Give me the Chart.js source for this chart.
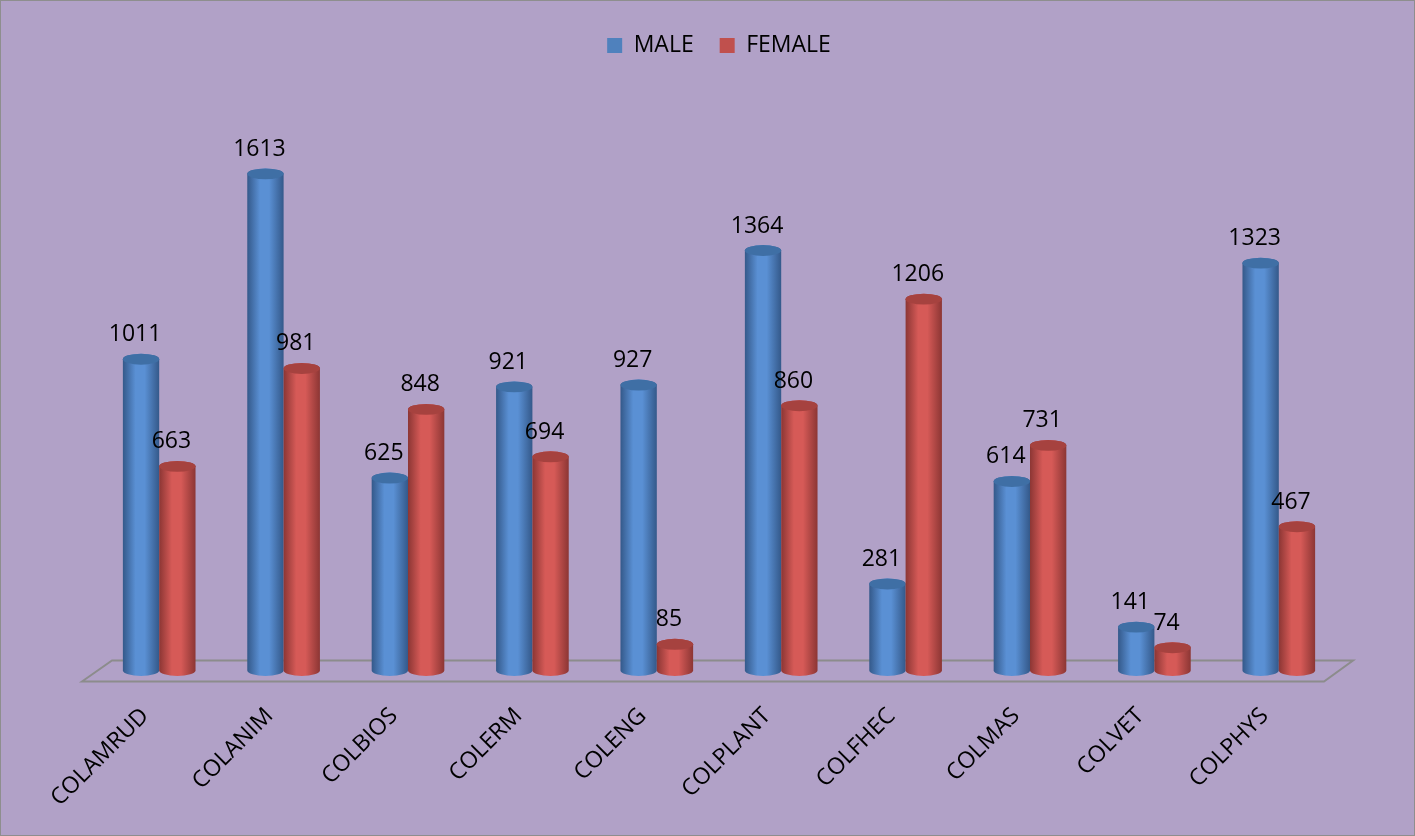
<!DOCTYPE html>
<html>
<head>
<meta charset="utf-8">
<script src="https://cdn.jsdelivr.net/npm/chart.js@4.4.1/dist/chart.umd.min.js"></script>
<style>
  html, body { margin: 0; padding: 0; background: #B1A1C7; }
  #wrap { width: 1415px; height: 836px; }
</style>
</head>
<body>
<div id="wrap"><canvas id="chart" width="1415" height="836"></canvas></div>
<script>
// Data
const colleges = ["COLAMRUD", "COLANIM", "COLBIOS", "COLERM", "COLENG", "COLPLANT", "COLFHEC", "COLMAS", "COLVET", "COLPHYS"];
const maleValues = [1011, 1613, 625, 921, 927, 1364, 281, 614, 141, 1323];
const femaleValues = [663, 981, 848, 694, 85, 860, 1206, 731, 74, 467];

const FONT = "'Open Sans', 'Liberation Sans', sans-serif";

// Cylinder shading per series
const shades = [
  { edge: "#34598A", mid: "#5A90D4", top: "#3F6FA5" },
  { edge: "#8C3634", mid: "#D65A57", top: "#A6423F" },
];

// background + border
const backgroundPlugin = {
  id: "bg",
  beforeDraw(chart) {
    const ctx = chart.ctx;
    ctx.save();
    ctx.fillStyle = "#B1A1C7";
    ctx.fillRect(0, 0, chart.width, chart.height);
    ctx.strokeStyle = "#8E8E8E";
    ctx.lineWidth = 1;
    ctx.strokeRect(0.5, 0.5, chart.width - 1, chart.height - 1);
    ctx.restore();
  },
};

// 3D floor under the bars
const floorPlugin = {
  id: "floor",
  beforeDatasetsDraw(chart) {
    const ctx = chart.ctx;
    const area = chart.chartArea;
    const y0 = chart.scales.y.getPixelForValue(0);
    ctx.save();
    ctx.strokeStyle = "#8C8C8C";
    ctx.lineWidth = 2;
    ctx.beginPath();
    ctx.moveTo(area.left - 15, y0 + 11);
    ctx.lineTo(area.left + 15, y0 - 10);
    ctx.lineTo(area.right + 12, y0 - 10);
    ctx.lineTo(area.right - 17, y0 + 11);
    ctx.closePath();
    ctx.stroke();
    ctx.restore();
  },
};

// Draw bars as cylinders instead of flat rects
const cylinderPlugin = {
  id: "cylinder",
  beforeDatasetDraw() {
    return false;
  },
  afterDatasetsDraw(chart) {
    const ctx = chart.ctx;
    chart.data.datasets.forEach((ds, di) => {
      const meta = chart.getDatasetMeta(di);
      const s = shades[di];
      meta.data.forEach((el) => {
        const { x, y, base, width } = el.getProps(["x", "y", "base", "width"], true);
        const rx = width / 2;
        const ry = width * 0.15;
        ctx.save();
        const g = ctx.createLinearGradient(x - rx, 0, x + rx, 0);
        g.addColorStop(0, s.edge);
        g.addColorStop(0.35, s.mid);
        g.addColorStop(0.6, s.mid);
        g.addColorStop(1, s.edge);
        ctx.fillStyle = g;
        ctx.beginPath();
        ctx.moveTo(x - rx, y);
        ctx.lineTo(x - rx, base);
        ctx.ellipse(x, base, rx, ry, 0, Math.PI, 0, true);
        ctx.lineTo(x + rx, y);
        ctx.ellipse(x, y, rx, ry, 0, 0, Math.PI, true);
        ctx.closePath();
        ctx.fill();
        // top cap
        ctx.fillStyle = s.top;
        ctx.beginPath();
        ctx.ellipse(x, y, rx, ry, 0, 0, Math.PI * 2);
        ctx.fill();
        ctx.restore();
      });
    });
    // value labels
    ctx.save();
    ctx.fillStyle = "#000";
    ctx.font = "23px " + FONT;
    ctx.textAlign = "center";
    ctx.textBaseline = "bottom";
    chart.data.datasets.forEach((ds, di) => {
      chart.getDatasetMeta(di).data.forEach((el, i) => {
        ctx.fillText(String(ds.data[i]), el.x - 6, el.y - 13);
      });
    });
    ctx.restore();
  },
};

new Chart(document.getElementById("chart"), {
  type: "bar",
  data: {
    labels: colleges,
    datasets: [
      { label: "MALE", data: maleValues, backgroundColor: "#4F81BD" },
      { label: "FEMALE", data: femaleValues, backgroundColor: "#C0504D" },
    ],
  },
  options: {
    responsive: false,
    animation: false,
    devicePixelRatio: 1,
    categoryPercentage: 0.584,
    barPercentage: 1,
    layout: { padding: { left: 97, right: 74, top: 8, bottom: 0 } },
    plugins: {
      legend: {
        position: "top",
        labels: {
          boxWidth: 15,
          boxHeight: 15,
          padding: 26,
          color: "#000",
          font: { family: FONT, size: 23 },
        },
      },
      tooltip: { enabled: false },
    },
    scales: {
      x: {
        grid: { display: false },
        border: { display: false },
        ticks: {
          minRotation: 45,
          maxRotation: 45,
          labelOffset: -14,
          padding: 24,
          color: "#000",
          font: { family: FONT, size: 23 },
        },
      },
      y: {
        display: false,
        min: 0,
        max: 1960,
      },
    },
  },
  plugins: [backgroundPlugin, floorPlugin, cylinderPlugin],
});
</script>
</body>
</html>
